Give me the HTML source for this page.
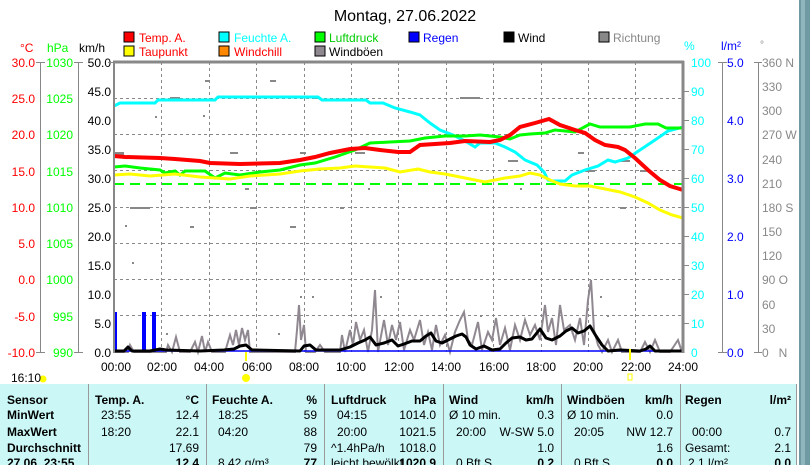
<!DOCTYPE html>
<html><head><meta charset="utf-8"><style>
body{margin:0;width:810px;height:465px;overflow:hidden;background:#fff;font-family:"Liberation Sans",sans-serif}
svg{position:absolute;left:0;top:0}
</style></head><body>
<svg width="810" height="465" xmlns="http://www.w3.org/2000/svg" font-family="Liberation Sans, sans-serif" font-size="12">
<rect x="799" y="0" width="11" height="465" fill="#6f9aa3"/>
<rect x="801" y="0" width="4" height="465" fill="#8fb6bd"/>
<text x="405" y="21" font-size="16" text-anchor="middle" fill="#000">Montag, 27.06.2022</text>
<!-- legend -->
<g font-size="12">
<rect x="124" y="32" width="10" height="10" fill="#f00" stroke="#000"/><text x="139" y="42" fill="#f00">Temp. A.</text>
<rect x="219" y="32" width="10" height="10" fill="#0ff" stroke="#000"/><text x="234" y="42" fill="#0ff">Feuchte A.</text>
<rect x="315" y="32" width="10" height="10" fill="#0f0" stroke="#000"/><text x="329" y="42" fill="#0c0">Luftdruck</text>
<rect x="409" y="32" width="10" height="10" fill="#00f" stroke="#000"/><text x="423" y="42" fill="#00f">Regen</text>
<rect x="504" y="32" width="10" height="10" fill="#000" stroke="#000"/><text x="518" y="42" fill="#000">Wind</text>
<rect x="599" y="32" width="10" height="10" fill="#888" stroke="#000"/><text x="613" y="42" fill="#888">Richtung</text>
<rect x="124" y="46" width="10" height="10" fill="#ff0" stroke="#000"/><text x="139" y="56" fill="#f00">Taupunkt</text>
<rect x="219" y="46" width="10" height="10" fill="#f80" stroke="#000"/><text x="234" y="56" fill="#f00">Windchill</text>
<rect x="315" y="46" width="10" height="10" fill="#908890" stroke="#000"/><text x="329" y="56" fill="#000">Windböen</text>
</g>
<!-- axis headers -->
<text x="20" y="52" fill="#f00">°C</text>
<text x="47" y="52" fill="#0f0">hPa</text>
<text x="79" y="52" fill="#000">km/h</text>
<text x="684" y="50" fill="#0ff">%</text>
<text x="721" y="50" fill="#00f">l/m²</text>
<text x="760" y="48" fill="#888" font-size="10">°</text>
<!-- left axes -->
<g stroke="#888" stroke-width="1">
<line x1="40.5" y1="62" x2="40.5" y2="352"/><line x1="78.5" y1="62" x2="78.5" y2="352"/>
<line x1="36" y1="62.5" x2="45" y2="62.5"/><line x1="74" y1="62.5" x2="83" y2="62.5"/>
<line x1="36" y1="352.5" x2="45" y2="352.5"/><line x1="74" y1="352.5" x2="83" y2="352.5"/>
<line x1="722.5" y1="62" x2="722.5" y2="352"/><line x1="718" y1="62.5" x2="727" y2="62.5"/><line x1="718" y1="352.5" x2="727" y2="352.5"/>
<line x1="758.5" y1="62" x2="758.5" y2="352"/>
</g>
<g fill="#f00" text-anchor="end">
<text x="35" y="67">30.0</text><text x="35" y="103">25.0</text><text x="35" y="139">20.0</text><text x="35" y="176">15.0</text><text x="35" y="212">10.0</text><text x="35" y="248">5.0</text><text x="35" y="284">0.0</text><text x="35" y="321">-5.0</text><text x="35" y="357">-10.0</text>
</g>
<g fill="#0f0" text-anchor="end">
<text x="73" y="67">1030</text><text x="73" y="103">1025</text><text x="73" y="139">1020</text><text x="73" y="176">1015</text><text x="73" y="212">1010</text><text x="73" y="248">1005</text><text x="73" y="284">1000</text><text x="73" y="321">995</text><text x="73" y="357">990</text>
</g>
<g fill="#000" text-anchor="end">
<text x="111" y="67">50.0</text><text x="111" y="96">45.0</text><text x="111" y="125">40.0</text><text x="111" y="154">35.0</text><text x="111" y="183">30.0</text><text x="111" y="212">25.0</text><text x="111" y="241">20.0</text><text x="111" y="270">15.0</text><text x="111" y="299">10.0</text><text x="111" y="328">5.0</text><text x="111" y="357">0.0</text>
</g>
<g fill="#0ff">
<text x="691" y="67">100</text><text x="691" y="96">90</text><text x="691" y="125">80</text><text x="691" y="154">70</text><text x="691" y="183">60</text><text x="691" y="212">50</text><text x="691" y="241">40</text><text x="691" y="270">30</text><text x="691" y="299">20</text><text x="691" y="328">10</text><text x="691" y="357">0</text>
</g>
<g fill="#00f">
<text x="727" y="67">5.0</text><text x="727" y="125">4.0</text><text x="727" y="183">3.0</text><text x="727" y="241">2.0</text><text x="727" y="299">1.0</text><text x="727" y="357">0.0</text>
</g>
<g fill="#888">
<text x="762" y="67">360 N</text><text x="762" y="91">330</text><text x="762" y="115">300</text><text x="762" y="139">270 W</text><text x="762" y="164">240</text><text x="762" y="188">210</text><text x="762" y="212">180 S</text><text x="762" y="236">150</text><text x="762" y="260">120</text><text x="762" y="284">90 O</text><text x="762" y="309">60</text><text x="762" y="333">30</text><text x="762" y="357">0&#160;&#160;&#160;N</text>
</g>
<!-- grid -->
<g stroke="#888" stroke-dasharray="3,3" stroke-width="1">
<line x1="114" y1="98.5" x2="683" y2="98.5"/><line x1="114" y1="134.5" x2="683" y2="134.5"/><line x1="114" y1="170.5" x2="683" y2="170.5"/><line x1="114" y1="207.5" x2="683" y2="207.5"/><line x1="114" y1="243.5" x2="683" y2="243.5"/><line x1="114" y1="279.5" x2="683" y2="279.5"/><line x1="114" y1="315.5" x2="683" y2="315.5"/>
<line x1="161.5" y1="62" x2="161.5" y2="352"/><line x1="209.5" y1="62" x2="209.5" y2="352"/><line x1="256.5" y1="62" x2="256.5" y2="352"/><line x1="304.5" y1="62" x2="304.5" y2="352"/><line x1="351.5" y1="62" x2="351.5" y2="352"/><line x1="398.5" y1="62" x2="398.5" y2="352"/><line x1="446.5" y1="62" x2="446.5" y2="352"/><line x1="493.5" y1="62" x2="493.5" y2="352"/><line x1="541.5" y1="62" x2="541.5" y2="352"/><line x1="588.5" y1="62" x2="588.5" y2="352"/><line x1="635.5" y1="62" x2="635.5" y2="352"/>
</g>
<!-- direction dots -->
<g fill="#888">
<rect x="205" y="80" width="4" height="2"/><rect x="270" y="80" width="6" height="2"/><rect x="170" y="97" width="10" height="2"/><rect x="312" y="97" width="6" height="2"/><rect x="460" y="97" width="20" height="2"/><rect x="155" y="116" width="2" height="2"/><rect x="203" y="115" width="2" height="2"/><rect x="114" y="152" width="10" height="3"/><rect x="230" y="152" width="8" height="2"/><rect x="300" y="152" width="6" height="2"/><rect x="355" y="152" width="10" height="2"/><rect x="508" y="160" width="10" height="2"/><rect x="578" y="152" width="6" height="2"/><rect x="620" y="160" width="10" height="2"/><rect x="640" y="170" width="10" height="2"/><rect x="585" y="170" width="10" height="2"/><rect x="245" y="188" width="4" height="2"/><rect x="368" y="188" width="2" height="2"/><rect x="520" y="188" width="2" height="2"/><rect x="130" y="207" width="20" height="2"/><rect x="250" y="207" width="6" height="2"/><rect x="340" y="207" width="4" height="2"/><rect x="620" y="207" width="6" height="2"/><rect x="125" y="225" width="2" height="2"/><rect x="190" y="226" width="4" height="2"/><rect x="290" y="226" width="6" height="2"/><rect x="132" y="262" width="2" height="2"/><rect x="300" y="296" width="2" height="2"/><rect x="312" y="296" width="2" height="2"/><rect x="380" y="296" width="2" height="2"/><rect x="600" y="296" width="2" height="2"/><rect x="166" y="333" width="2" height="2"/><rect x="278" y="333" width="2" height="2"/><rect x="480" y="315" width="2" height="2"/><rect x="607" y="315" width="2" height="2"/></g>
<!-- green dashed -->
<line x1="114" y1="184" x2="683" y2="184" stroke="#0f0" stroke-width="2" stroke-dasharray="10,6"/>
<!-- gusts -->
<polyline fill="none" stroke="#908890" stroke-width="2" points="114,352 128,352 130,345 134,352 160,352 166,352 168,345 172,352 176,337 180,352 185,352 190,352 195,342 198,352 202,336 205,352 208,342 212,352 225,352 230,335 233,345 236,330 239,345 242,328 245,340 248,330 250,352 260,352 295,352 297,330 299,305 301,340 304,325 306,352 315,352 320,345 325,352 340,352 342,335 345,352 350,330 353,345 356,322 360,340 364,330 368,352 372,330 375,290 378,352 384,320 388,345 392,325 396,340 400,322 404,350 410,330 414,340 420,320 424,345 428,332 432,350 436,325 440,345 445,335 450,352 455,332 460,320 464,312 468,340 472,345 478,322 482,350 488,332 492,340 496,318 500,345 505,328 510,350 515,325 520,340 525,320 530,335 535,325 540,340 545,305 548,332 552,318 556,345 560,305 564,330 570,325 575,340 580,318 584,345 588,300 591,280 594,330 598,345 602,352 608,340 612,352 618,340 622,352 640,352 645,342 650,352 655,340 660,352 670,352 678,340 682,352"/>
<!-- rain -->
<g fill="#00f"><rect x="114" y="312" width="3" height="40"/><rect x="142" y="312" width="4" height="40"/><rect x="152" y="312" width="4" height="40"/></g>
<line x1="114" y1="351" x2="683" y2="351" stroke="#00f" stroke-width="1.5"/>
<!-- wind -->
<polyline fill="none" stroke="#000" stroke-width="3" stroke-linejoin="round" points="114,351 124,351 128,347 132,351 150,351 160,349 166,350 200,351 224,350 234,349 240,346 246,345 252,350 300,351 304,346 310,345 316,350 340,350 350,347 358,343 365,340 370,337 376,345 384,343 392,340 398,346 404,344 412,341 420,341 426,336 431,333 436,341 442,343 450,339 456,336 462,334 466,337 470,345 476,349 484,346 492,350 500,349 506,343 512,338 520,337 526,340 532,339 540,329 546,338 552,340 560,336 566,331 572,328 578,333 584,331 590,326 596,336 602,345 608,351 620,350 640,351 646,349 650,346 655,351 683,351"/>
<!-- humidity -->
<polyline fill="none" stroke="#0ff" stroke-width="3" points="114,106 120,103 155,103 158,100 215,100 218,97 318,97 322,100 366,100 370,103 383,103 395,108 410,112 420,115 430,123 440,130 453,135 465,141 475,147 480,143 495,143 505,147 515,152 525,160 537,165 544,172 548,180 552,181 565,181 572,175 585,170 598,166 608,160 615,162 628,158 640,150 655,140 668,131 683,127"/>
<!-- pressure -->
<polyline fill="none" stroke="#0f0" stroke-width="3" points="114,167 125,166 140,168 160,170 165,173 175,171 180,175 185,171 205,171 215,178 225,173 240,175 260,172 280,170 300,165 315,163 335,157 355,150 370,143 390,142 410,141 425,138 445,136 465,136 480,135 500,137 510,139 520,135 530,134 545,133 555,130 575,132 590,124 600,127 630,127 645,124 658,124 666,128 683,128"/>
<!-- dewpoint -->
<polyline fill="none" stroke="#ff0" stroke-width="3" points="114,175 130,174 150,176 175,174 200,177 215,178 230,179 250,176 280,174 300,171 320,169 340,168 355,166 370,167 385,168 400,172 418,169 430,172 445,174 460,177 475,180 485,182 505,178 520,176 530,173 540,175 550,180 560,184 575,186 590,186 605,189 620,192 635,197 648,203 660,210 672,215 683,218"/>
<!-- temperature -->
<polyline fill="none" stroke="#f00" stroke-width="4" points="114,156 125,157 160,158 175,159 200,161 210,163 240,164 280,163 300,160 315,157 330,153 350,149 365,148 380,150 398,152 410,152 420,145 450,143 465,141 490,142 500,140 510,135 520,127 535,123 549,119 560,125 575,130 585,133 595,140 605,145 618,147 625,150 635,158 648,170 660,180 670,186 683,190"/>
<!-- frame -->
<line x1="114" y1="61" x2="114" y2="353" stroke="#888" stroke-width="2"/>
<line x1="113" y1="62" x2="684" y2="62" stroke="#888" stroke-width="3"/>
<line x1="683" y1="61" x2="683" y2="353" stroke="#888" stroke-width="3"/>
<g stroke="#888"><line x1="683" y1="91.5" x2="689" y2="91.5"/><line x1="683" y1="120.5" x2="689" y2="120.5"/><line x1="683" y1="149.5" x2="689" y2="149.5"/><line x1="683" y1="178.5" x2="689" y2="178.5"/><line x1="683" y1="207.5" x2="689" y2="207.5"/><line x1="683" y1="236.5" x2="689" y2="236.5"/><line x1="683" y1="265.5" x2="689" y2="265.5"/><line x1="683" y1="294.5" x2="689" y2="294.5"/><line x1="683" y1="323.5" x2="689" y2="323.5"/>
<line x1="754" y1="62.5" x2="762" y2="62.5"/><line x1="754" y1="352.5" x2="762" y2="352.5"/><line x1="108" y1="62.5" x2="114" y2="62.5"/></g>
<!-- x labels -->
<g fill="#000" text-anchor="middle">
<text x="116" y="371">00:00</text><text x="162" y="371">02:00</text><text x="209" y="371">04:00</text><text x="257" y="371">06:00</text><text x="304" y="371">08:00</text><text x="351" y="371">10:00</text><text x="399" y="371">12:00</text><text x="446" y="371">14:00</text><text x="494" y="371">16:00</text><text x="541" y="371">18:00</text><text x="588" y="371">20:00</text><text x="636" y="371">22:00</text><text x="683" y="371">24:00</text>
</g>
<rect x="245" y="352" width="2" height="9" fill="#ff0"/><rect x="629" y="349" width="2" height="11" fill="#ff0"/>
<circle cx="246" cy="378" r="4" fill="#ff0"/><circle cx="43" cy="379" r="3.5" fill="#ff0"/>
<rect x="628" y="374" width="4" height="6" fill="none" stroke="#ff0"/>
<text x="11" y="382" fill="#000">16:10</text>
<!-- table -->
<rect x="0" y="384" width="797" height="81" fill="#ccf7f7"/>
<line x1="796.5" y1="384" x2="796.5" y2="465" stroke="#999"/>
<g stroke="#999"><line x1="88.5" y1="384" x2="88.5" y2="465"/><line x1="206.5" y1="384" x2="206.5" y2="465"/><line x1="324.5" y1="384" x2="324.5" y2="465"/><line x1="443.5" y1="384" x2="443.5" y2="465"/><line x1="561.5" y1="384" x2="561.5" y2="465"/><line x1="680.5" y1="384" x2="680.5" y2="465"/></g>
<g font-size="12" fill="#000">
<g font-weight="bold"><text x="7" y="404">Sensor</text><text x="7" y="419">MinWert</text><text x="7" y="436">MaxWert</text><text x="7" y="452">Durchschnitt</text><text x="7" y="467">27.06. 23:55</text>
<text x="95" y="404">Temp. A.</text><text x="212" y="404">Feuchte A.</text><text x="331" y="404">Luftdruck</text><text x="449" y="404">Wind</text><text x="567" y="404">Windböen</text><text x="685" y="404">Regen</text>
<g text-anchor="end"><text x="199" y="404">°C</text><text x="317" y="404">%</text><text x="436" y="404">hPa</text><text x="554" y="404">km/h</text><text x="673" y="404">km/h</text><text x="791" y="404">l/m²</text>
<text x="199" y="467">12.4</text><text x="317" y="467">77</text><text x="436" y="467">1020.9</text><text x="554" y="467">0.2</text><text x="673" y="467">0.0</text><text x="791" y="467">0.0</text></g></g>
<text x="101" y="419">23:55</text><text x="101" y="436">18:20</text><text x="218" y="419">18:25</text><text x="218" y="436">04:20</text><text x="337" y="419">04:15</text><text x="337" y="436">20:00</text><text x="331" y="452">^1.4hPa/h</text>
<text x="449" y="419">Ø 10 min.</text><text x="456" y="436">20:00</text><text x="567" y="419">Ø 10 min.</text><text x="574" y="436">20:05</text><text x="692" y="436">00:00</text><text x="685" y="452">Gesamt:</text>
<text x="218" y="467">8.42 g/m³</text><text x="331" y="467">leicht bewölkt</text><text x="456" y="467">0 Bft S</text><text x="574" y="467">0 Bft S</text><text x="688" y="467">2.1 l/m²</text>
<g text-anchor="end"><text x="199" y="419">12.4</text><text x="199" y="436">22.1</text><text x="199" y="452">17.69</text>
<text x="317" y="419">59</text><text x="317" y="436">88</text><text x="317" y="452">79</text>
<text x="436" y="419">1014.0</text><text x="436" y="436">1021.5</text><text x="436" y="452">1018.0</text>
<text x="554" y="419">0.3</text><text x="554" y="436">W-SW 5.0</text><text x="554" y="452">1.0</text>
<text x="673" y="419">0.0</text><text x="673" y="436">NW 12.7</text><text x="673" y="452">1.6</text>
<text x="791" y="436">0.7</text><text x="791" y="452">2.1</text></g>
</g>
</svg>
</body></html>
